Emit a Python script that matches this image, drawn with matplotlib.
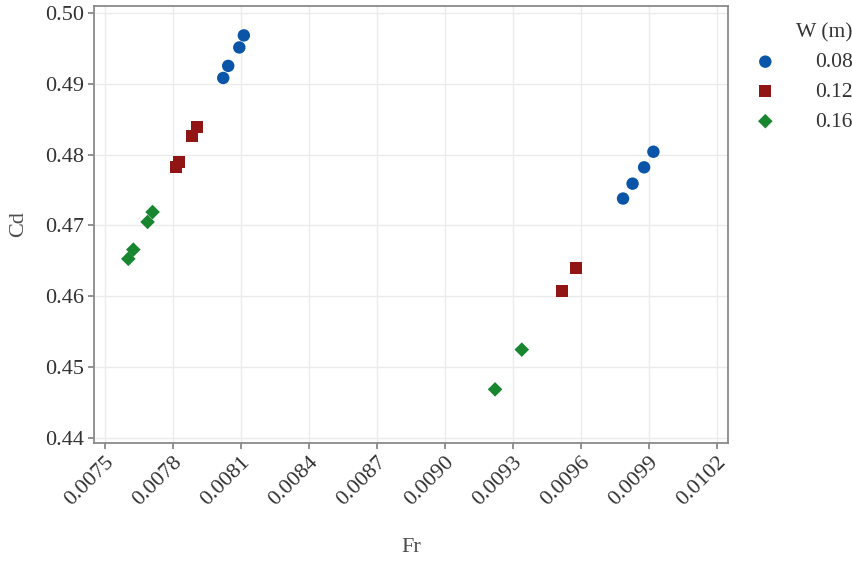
import matplotlib
matplotlib.use("Agg")
import matplotlib.pyplot as plt
import numpy as np

plt.rcParams['font.family'] = ['Liberation Serif', 'DejaVu Serif']

# values
fr_008 = [0.008022, 0.008044, 0.008093, 0.008113, 0.009787, 0.009829, 0.009880, 0.009921]
cd_008 = [0.4908, 0.4925, 0.4951, 0.4968, 0.4738, 0.4759, 0.4782, 0.4804]
fr_012 = [0.007815, 0.007826, 0.007885, 0.007905, 0.009516, 0.009580]
cd_012 = [0.4783, 0.4790, 0.4826, 0.4839, 0.4608, 0.4640]
fr_016 = [0.007603, 0.007625, 0.007688, 0.007710, 0.009222, 0.009340]
cd_016 = [0.4653, 0.4666, 0.4705, 0.4719, 0.4469, 0.4525]

widths = ['0.08', '0.12', '0.16']
x_ticks = [0.0075, 0.0078, 0.0081, 0.0084, 0.0087, 0.0090, 0.0093, 0.0096, 0.0099, 0.0102]
y_ticks = [0.44, 0.45, 0.46, 0.47, 0.48, 0.49, 0.50]

fig = plt.figure(figsize=(8.53, 5.68), dpi=100)
ax = fig.add_axes([0.1106, 0.2206, 0.8531 - 0.1106, 0.9894 - 0.2206])

series = [
    (fr_008, cd_008, 'o', '#0a55a8', 80),
    (fr_012, cd_012, 's', '#921515', 75),
    (fr_016, cd_016, 'D', '#17862f', 55),
]
for (x, y, m, c, s), lab in zip(series, widths):
    ax.scatter(x, y, marker=m, color=c, s=s, edgecolors='none', label=lab, zorder=3)

ax.set_xlim(0.007453, 0.010249)
ax.set_ylim(0.43938, 0.50094)
ax.set_xticks(x_ticks)
ax.set_xticklabels([f'{v:.4f}' for v in x_ticks], rotation=45, ha='right',
                   va='top', rotation_mode='anchor')
ax.set_yticks(y_ticks)
ax.set_yticklabels([f'{v:.2f}' for v in y_ticks])
ax.tick_params(labelsize=16, colors='#7f7f7f', labelcolor='#333333',
               length=4, width=1.2)
ax.grid(True, color='#ebebeb', linewidth=1.0, zorder=0)
ax.set_axisbelow(True)
for sp in ax.spines.values():
    sp.set_color('#8a8a8a')
    sp.set_linewidth(1.3)

ax.set_xlabel('Fr', fontsize=16, color='#4d4d4d', labelpad=20)
ax.set_ylabel('Cd', fontsize=16, color='#4d4d4d', labelpad=12)

leg = ax.legend(title='W (m)', loc='upper left', bbox_to_anchor=(1.005, 0.99),
                frameon=False, fontsize=15.5, title_fontsize=15.5,
                handletextpad=1.3, labelspacing=0.45, borderaxespad=0.2,
                alignment='right')
for t in leg.get_texts():
    t.set_color('#333333')
leg.get_title().set_color('#333333')

fig.savefig('out.png', dpi=100)
